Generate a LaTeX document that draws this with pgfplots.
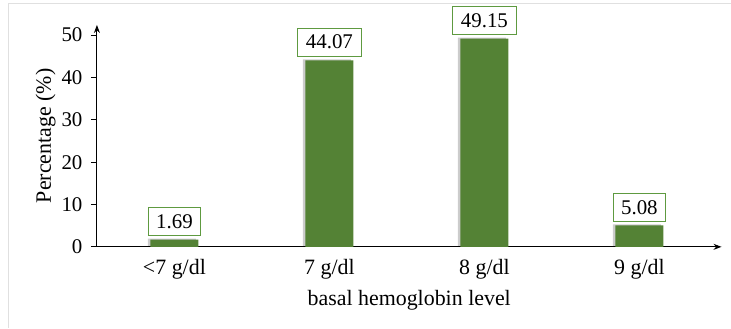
\documentclass[border=0pt]{standalone}
\usepackage{fontspec}
\setmainfont{Liberation Serif}
\usepackage{pgfplots}
\pgfplotsset{compat=1.18}
\usetikzlibrary{arrows.meta}
\definecolor{barg}{HTML}{548235}
\definecolor{boxg}{HTML}{5E9A40}
\begin{document}
\begin{tikzpicture}
\begin{axis}[
  scale only axis,
  width=625bp, height=222bp,
  xmin=-0.5, xmax=3.53, ymin=0, ymax=52.4,
  axis x line=bottom, axis y line=left,
  axis line style={line width=1bp, -{Stealth[length=8bp,width=6bp]}},
  xtick=data,
  xticklabels={{<7 g/dl},{7 g/dl},{8 g/dl},{9 g/dl}},
  ytick={0,10,...,50},
  x tick style={draw=none},
  y tick style={line width=1bp, black},
  tick align=outside,
  major tick length=6bp,
  /pgf/number format/assume math mode=true,
  tick label style={font=\fontsize{21}{24}\selectfont, black},
  xticklabel style={yshift=-3bp, font=\fontsize{22}{25}\selectfont},
  yticklabel style={xshift=-5bp},
  xlabel={basal hemoglobin level},
  ylabel={Percentage (\%)},
  label style={font=\fontsize{22}{25}\selectfont},
  xlabel style={yshift=-4bp},
  ylabel style={yshift=-1bp},
  clip=false,
]
\addplot[ybar, bar width=48bp, fill=barg, draw=none,
  preaction={fill=black!20, transform canvas={xshift=-2.5bp, yshift=1bp}},
  nodes near coords={\pgfmathprintnumber[fixed,fixed zerofill,precision=2]{\pgfplotspointmeta}},
  every node near coord/.append style={font=\fontsize{21}{24}\selectfont, draw=boxg, line width=0.8bp, fill=white, inner xsep=8bp, inner ysep=7bp, anchor=south, yshift=4bp, outer sep=0pt, text=black}
] coordinates {(0,1.69) (1,44.07) (2,49.15) (3,5.08)};
\coordinate (O) at (axis cs:-0.5,0);
\end{axis}
\pgfresetboundingbox
\path ([shift={(-97bp,-81bp)}]O) rectangle ++(731bp,328bp);
\draw[black!12, line width=1bp] ([shift={(-88bp,-81bp)}]O) -- ++(0,324bp) -- ++(722bp,0);
\end{tikzpicture}
\end{document}
